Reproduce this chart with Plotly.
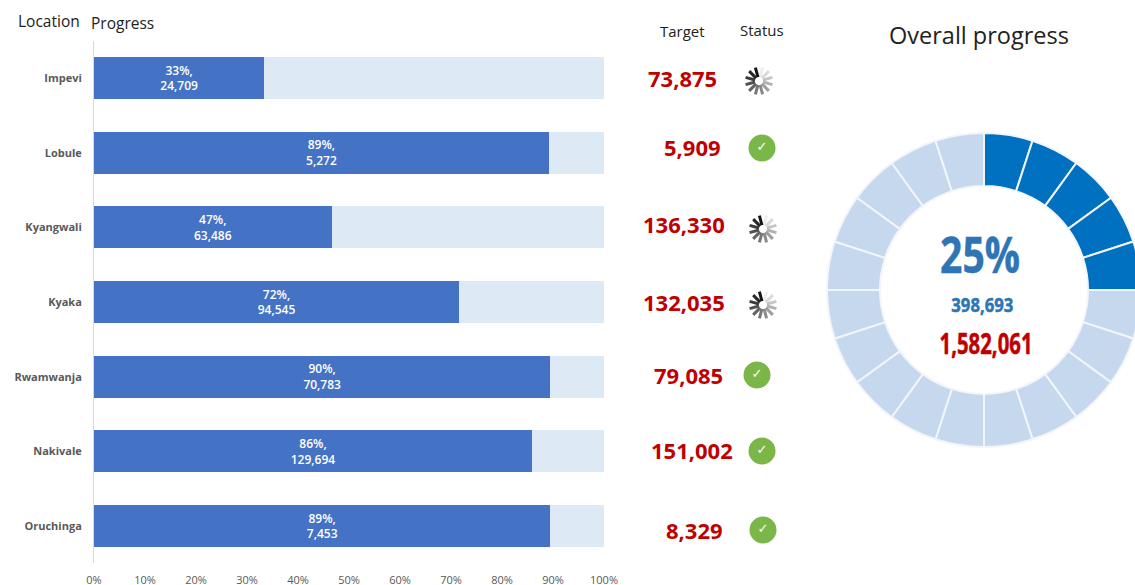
import plotly.graph_objects as go
import math

W, H = 1145, 585
locations = ["Impevi", "Lobule", "Kyangwali", "Kyaka", "Rwamwanja", "Nakivale", "Oruchinga"]
percent_done = [33.4, 89.2, 46.6, 71.6, 89.5, 85.9, 89.5]
achieved = [24709, 5272, 63486, 94545, 70783, 129694, 7453]
targets = [73875, 5909, 136330, 132035, 79085, 151002, 8329]
status = ["wait", "done", "wait", "wait", "done", "done", "done"]
percent_labels = ["33%", "89%", "47%", "72%", "90%", "86%", "89%"]
segments_done = [1] * 5
segments_left = [1] * 15
overall_pct = "25%"
overall_done = "398,693"
overall_target = "1,582,061"

# hand placement of the free-floating worksheet cells (pixels)
target_xy = [(682, 78), (693, 147), (684, 224), (684, 302), (688, 375), (692, 450), (694, 530)]
status_xy = [(759, 81), (762, 148), (763, 229), (763, 305), (757, 375), (762, 451), (763, 530)]

DARK, LIGHT = "#4472C4", "#DEE9F6"
RED, BLUE = "#C00000", "#2E75B6"
SANS = "Open Sans, Noto Sans, sans-serif"

fig = go.Figure()
labels = [f"{p},<br>{a:,}" for p, a in zip(percent_labels, achieved)]
fig.add_bar(y=locations, x=percent_done, orientation="h", marker_color=DARK, marker_line_width=0,
            text=labels, textposition="inside", insidetextanchor="middle", textangle=0,
            textfont=dict(color="white", size=12, family=SANS, weight=600),
            hoverinfo="skip")
fig.add_bar(y=locations, x=[100 - p for p in percent_done], orientation="h", marker_color=LIGHT,
            marker_line_width=0, hoverinfo="skip")

fig.add_pie(values=segments_done + segments_left, sort=False, direction="clockwise", rotation=0,
            hole=104 / 157, textinfo="none", hoverinfo="skip", showlegend=False,
            marker=dict(colors=["#0070C0"] * len(segments_done) + ["#C6D8EE"] * len(segments_left),
                        line=dict(color="#F2F5FB", width=2)),
            domain=dict(x=[827 / W, 1141 / W], y=[1 - 447 / H, 1 - 133 / H]))

# status icons on a pixel-scaled overlay axis
done_pts = [status_xy[i] for i, s in enumerate(status) if s == "done"]
fig.add_scatter(x=[p[0] for p in done_pts], y=[p[1] for p in done_pts], xaxis="x2", yaxis="y2",
                mode="markers+text", text=["✓"] * len(done_pts), textposition="middle center",
                textfont=dict(color="white", size=13, family="DejaVu Sans"),
                marker=dict(size=27, color="#7AB648"), hoverinfo="skip", showlegend=False)
sx, sy, sa, sc = [], [], [], []
for i, s in enumerate(status):
    if s != "wait":
        continue
    cx, cy = status_xy[i]
    for k in range(12):
        a = 15 + 30 * k
        sx.append(cx + 9 * math.sin(math.radians(a)))
        sy.append(cy - 9 * math.cos(math.radians(a)))
        sa.append(a)
        v = int(238 - 218 * k / 11)
        sc.append(f"rgb({v},{v},{v})")
fig.add_scatter(x=sx, y=sy, xaxis="x2", yaxis="y2", mode="markers", hoverinfo="skip", showlegend=False,
                marker=dict(symbol="line-ns", size=7, angle=sa, color=sc, line=dict(color=sc, width=3)))

ann = []
def text(x, y, s, size, color="#222222", anchor="center", weight=400):
    ann.append(dict(x=x / W, y=1 - y / H, xref="paper", yref="paper", text=s, showarrow=False,
                    xanchor=anchor, yanchor="middle", font=dict(size=size, color=color, family=SANS, weight=weight)))

text(16, 21, "Location", 15.5, anchor="left")
text(89, 23, "Progress", 15.5, anchor="left")
text(682, 31, "Target", 15)
text(762, 30, "Status", 15)
text(979, 35, "Overall progress", 23.5)
for (x, y), t in zip(target_xy, targets):
    text(x, y, f"{t:,}", 22, RED, weight=700)
text(980, 254, overall_pct, 50, BLUE, weight=700)
text(982, 305, overall_done, 19, BLUE, weight=700)
text(986, 343, overall_target, 28, RED, weight=700)

fig.update_layout(
    width=W, height=H, margin=dict(l=0, r=0, t=0, b=0), paper_bgcolor="white", plot_bgcolor="rgba(0,0,0,0)",
    barmode="stack", bargap=0.4375, showlegend=False, annotations=ann,
    xaxis=dict(domain=[94 / W, 604 / W], range=[0, 100], dtick=10, ticksuffix="%", showgrid=False,
               ticks="outside", ticklen=6, tickcolor="rgba(0,0,0,0)", zeroline=False, automargin=False,
               tickfont=dict(size=11, color="#595959", family=SANS), anchor="y"),
    yaxis=dict(domain=[1 - 563.4 / H, 1 - 40.7 / H], range=[6.5, -0.5], type="category",
               categoryorder="array", categoryarray=locations, showline=True, linecolor="#D9D9D9", linewidth=1,
               ticks="outside", ticklen=9, tickcolor="rgba(0,0,0,0)", showgrid=False, zeroline=False, automargin=False,
               tickfont=dict(size=11, color="#595959", family=SANS, weight=700), anchor="x"),
    xaxis2=dict(domain=[0, 1], range=[0, W], visible=False, anchor="y2", automargin=False),
    yaxis2=dict(domain=[0, 1], range=[H, 0], visible=False, anchor="x2", automargin=False),
)
post = """
document.body.style.margin='0';
document.documentElement.style.overflow='hidden';
document.body.style.overflow='hidden';
var squeeze={'%s':80,'%s':62,'%s':93};
document.querySelectorAll('.annotation-text').forEach(function(t){
  var w=squeeze[t.textContent];
  if(w){t.setAttribute('textLength',w);t.setAttribute('lengthAdjust','spacingAndGlyphs');
    t.style.stroke=t.style.fill;t.style.strokeWidth='0.5px';}
});
""" % (overall_pct, overall_done, overall_target)
fig.write_html("out.html", config=dict(displayModeBar=False), post_script=post)
